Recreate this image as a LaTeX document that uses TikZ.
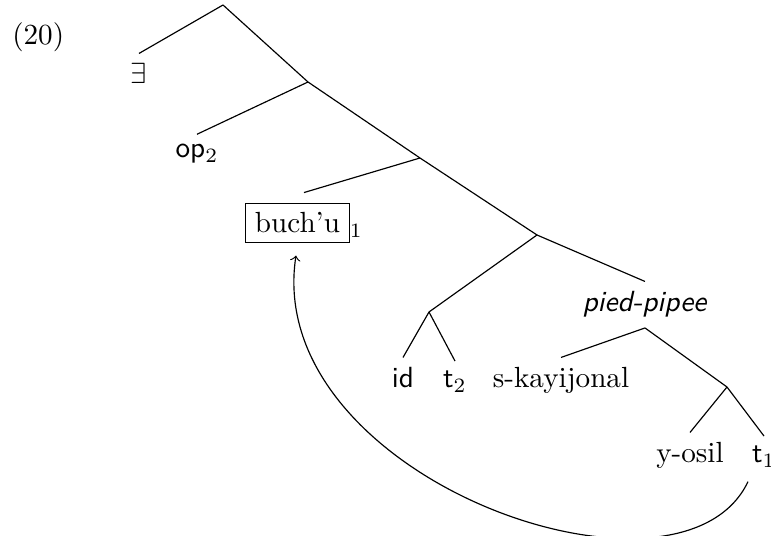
\documentclass[tikz,border=0pt]{standalone}
\usepackage{amsmath, amssymb}
\usetikzlibrary{calc}

\begin{document}
\begin{tikzpicture}[x=0.343pt, y=-0.343pt, every node/.style={anchor=base}]
            \useasboundingbox (0,0) rectangle (771,536);
            \node[anchor=base west] (num) at (2,45) {(20)};

            % branching points
            \coordinate (root) at (223,5);
            \coordinate (n1) at (308,82);
            \coordinate (n2) at (420,158);
            \coordinate (n3) at (537,235);
            \coordinate (n4) at (429,312);
            \coordinate (n5) at (727,387);

            % leaves
            \node (ex) at (139,84) {$\exists$};
            \node (op) at (197,158) {\textsf{op}$_2$};
            \node (buch) at (304,233) {\fbox{buch'u}$_1$};
            \node (id) at (403,388) {\textsf{id}};
            \node (t2) at (455,388) {\textsf{t}$_2$};
            \node (pied) at (645,312) {\textsf{\textit{pied-pipee}}};
            \node (skay) at (561,388) {s-kayijonal};
            \node (yosil) at (690,463) {y-osil};
            \node (t1) at (764,463) {\textsf{t}$_1$};

            \foreach \a/\b in {root/n1, n1/n2, n2/n3, n3/n4} {
                \draw (\a) -- (\b);
            }
            \foreach \a/\b in {root/ex, n1/op, n2/buch, n3/pied, n4/id, n4/t2, n5/yosil, n5/t1} {
                \draw (\a) -- (\b.north);
            }
            \draw (pied.south) -- (skay.north);
            \draw (pied.south) -- (n5);

            % movement
            \draw[->] ($(t1.south)+(-16,4)$) .. controls (680,625) and (262,478) .. ($(buch.south)+(-8,2)$);
        \end{tikzpicture}
\end{document}
